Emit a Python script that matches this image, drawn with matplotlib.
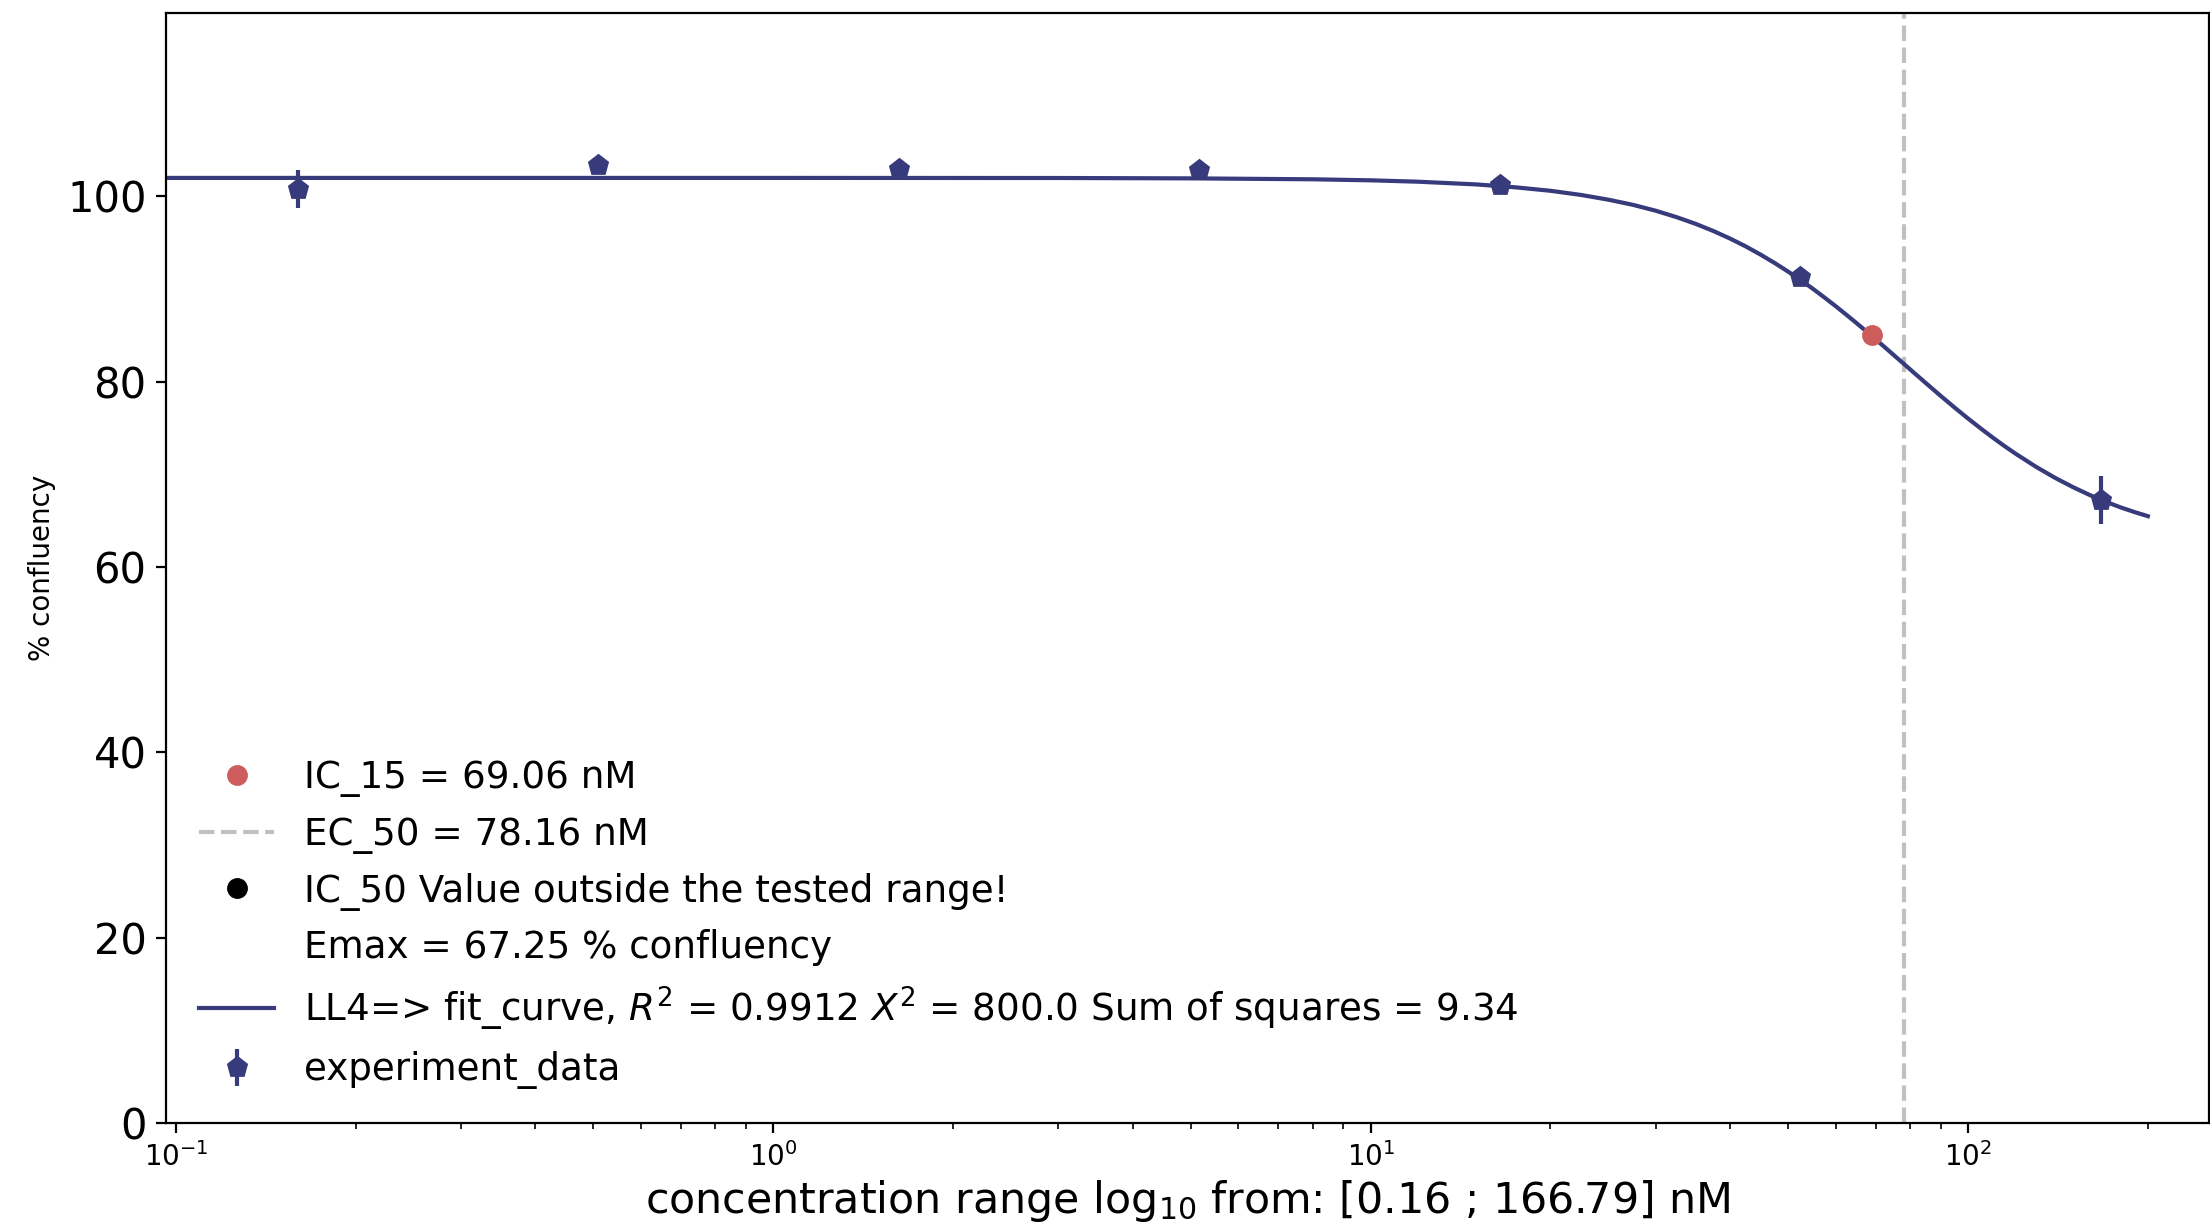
import matplotlib
matplotlib.use("Agg")
import matplotlib.pyplot as plt

# dilution series (nM) and measured confluency
conc = [0.16, 0.5095, 1.622, 5.166, 16.45, 52.38, 166.79]
confluency = [100.8, 103.4, 103.0, 102.9, 101.2, 91.3, 67.2]
conf_err = [2.1, 0.3, 0.3, 0.3, 0.3, 0.4, 2.6]

# fitted LL4 curve
fit_x = [0.09, 1, 3, 5, 8, 10, 12, 15, 17.5, 20, 22.5, 25, 27.5, 30, 32.5,
         35, 37.5, 40, 42.5, 45, 47.5, 50, 52.5, 55, 57.5, 60, 62.5, 65,
         67.5, 70, 72.5, 75, 77.5, 80, 85, 90, 95, 100, 105, 110, 115, 120,
         130, 140, 150, 160, 170, 180, 190, 200]
fit_y = [102.0, 102.0, 101.99, 101.95, 101.85, 101.74, 101.59, 101.30, 100.98,
         100.61, 100.16, 99.65, 99.09, 98.46, 97.77, 97.04, 96.26, 95.44,
         94.59, 93.70, 92.80, 91.88, 90.96, 90.03, 89.09, 88.17, 87.25, 86.35,
         85.46, 84.59, 83.74, 82.91, 82.11, 81.33, 79.85, 78.47, 77.20, 76.03,
         74.96, 73.97, 73.07, 72.25, 70.81, 69.61, 68.61, 67.76, 67.05, 66.44,
         65.93, 65.49]

ic15_x, ic15_y = 69.06, 85.0
ec50_x = 78.16

NAVY = "#383b7b"
RED = "#cd5c5c"
GREY = "#c0c0c0"

fig, ax = plt.subplots(figsize=(11.05, 6.125), dpi=200)
fig.subplots_adjust(left=0.0751, right=0.9995, top=0.9894, bottom=0.0833)

h_ic15, = ax.plot([ic15_x], [ic15_y], "o", color=RED, ms=6.5, zorder=4)
h_ec50 = ax.axvline(ec50_x, color=GREY, ls="--", lw=1.5)
h_ic50, = ax.plot([], [], "o", color="black", ms=6.5)
h_emax, = ax.plot([], [], " ")
h_fit, = ax.plot(fit_x, fit_y, color=NAVY, lw=1.5)
h_data = ax.errorbar(conc, confluency, yerr=conf_err, fmt="p", color=NAVY,
                     ms=7, elinewidth=1.5, capsize=0, zorder=3)

ax.set_xscale("log")
ax.set_xlim(0.0963, 253)
ax.set_ylim(0, 119.8)

ax.set_xlabel("concentration range log$_{10}$ from: [0.16 ; 166.79] nM",
              fontsize=15.4, labelpad=2)
ax.set_ylabel("% confluency", fontsize=10)
ax.tick_params(axis="y", labelsize=15)
ax.tick_params(axis="x", labelsize=10)

labels = [
    "IC_15 = 69.06 nM",
    "EC_50 = 78.16 nM",
    "IC_50 Value outside the tested range!",
    "Emax = 67.25 % confluency",
    "LL4=> fit_curve, $R^2$ = 0.9912 $X^2$ = 800.0 Sum of squares = 9.34",
    "experiment_data",
]
ax.legend([h_ic15, h_ec50, h_ic50, h_emax, h_fit, h_data], labels,
          loc="lower left", frameon=False, fontsize=13.4)

fig.savefig("out.png", dpi=200)
plt.close(fig)
